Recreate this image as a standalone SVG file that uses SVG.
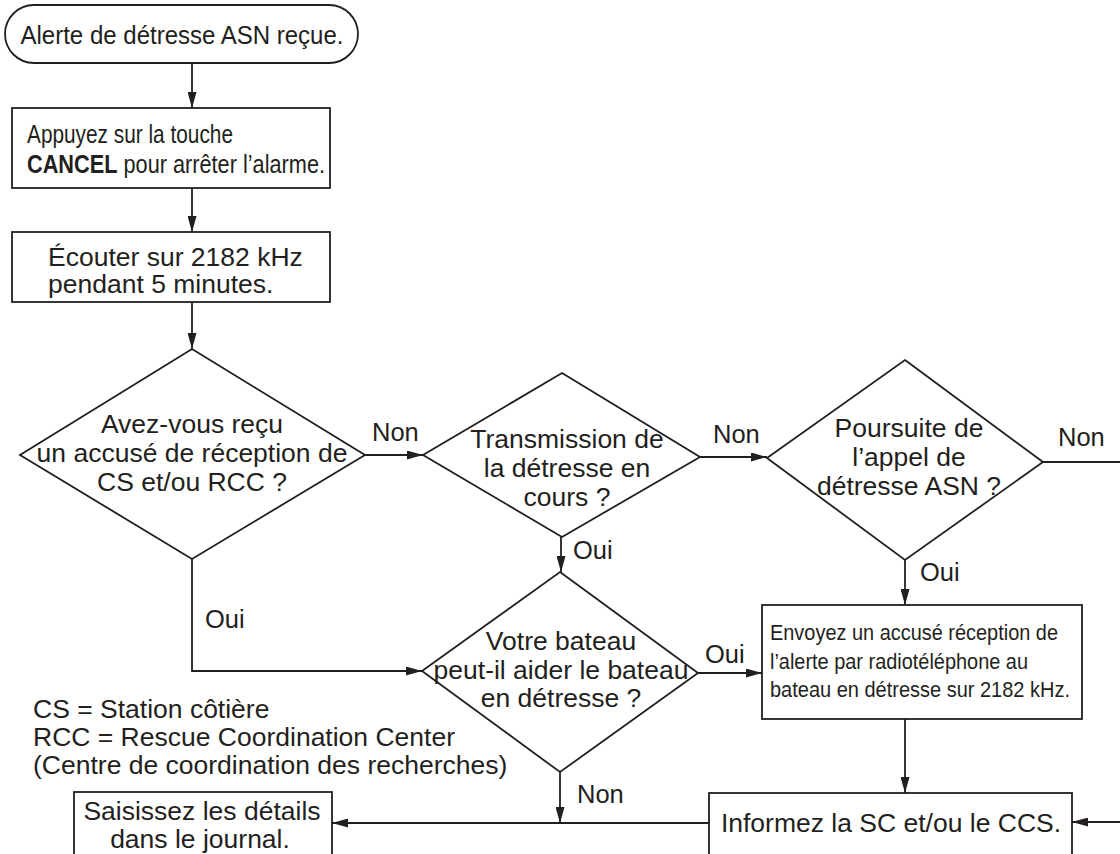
<svg xmlns="http://www.w3.org/2000/svg" width="1120" height="854" viewBox="0 0 1120 854">
<defs>
<style>
text{font-family:"Liberation Sans",Arial,sans-serif;fill:#231f20;}
.t26{font-size:26.5px;}
.lbl{font-size:25.5px;}
.t25{font-size:25px;}
.t22{font-size:22px;}
.mid{text-anchor:middle;}
.shape{fill:#fff;stroke:#231f20;stroke-width:1.8;}
.conn{fill:none;stroke:#231f20;stroke-width:1.8;}
.b{font-weight:bold;}
</style>
<marker id="arr" markerUnits="userSpaceOnUse" markerWidth="16" markerHeight="9" refX="16" refY="4.5" orient="auto">
<path d="M0,0 L16,4.5 L0,9 z" fill="#231f20"/>
</marker>
</defs>
<rect width="1120" height="854" fill="#fff"/>

<g id="connectors">
<path class="conn" d="M192,63 V108" marker-end="url(#arr)"/>
<path class="conn" d="M192,188 V232" marker-end="url(#arr)"/>
<path class="conn" d="M192,302 V349" marker-end="url(#arr)"/>
<path class="conn" d="M365,455 H423" marker-end="url(#arr)"/>
<path class="conn" d="M700,457 H767" marker-end="url(#arr)"/>
<path class="conn" d="M1043,462 H1120"/>
<path class="conn" d="M561,537 V572" marker-end="url(#arr)"/>
<path class="conn" d="M905,560 V605" marker-end="url(#arr)"/>
<path class="conn" d="M192,559 V671 H422" marker-end="url(#arr)"/>
<path class="conn" d="M698,673 H762" marker-end="url(#arr)"/>
<path class="conn" d="M905,719 V793" marker-end="url(#arr)"/>
<path class="conn" d="M1120,822 H1072" marker-end="url(#arr)"/>
<path class="conn" d="M709,823 H332" marker-end="url(#arr)"/>
<path class="conn" d="M560,772 V823" marker-end="url(#arr)"/>
<text class="lbl" x="372" y="441">Non</text>
<text class="lbl" x="713" y="443">Non</text>
<text class="lbl" x="1058" y="446">Non</text>
<text class="lbl" x="573" y="559">Oui</text>
<text class="lbl" x="920" y="581">Oui</text>
<text class="lbl" x="205" y="628">Oui</text>
<text class="lbl" x="705" y="663">Oui</text>
<text class="lbl" x="577" y="803">Non</text>
</g>

<g id="start">
<rect class="shape" x="5" y="5" width="353" height="58" rx="29" ry="29"/>
<text class="t26 mid" x="182" y="44" textLength="323" lengthAdjust="spacingAndGlyphs">Alerte de détresse ASN reçue.</text>
</g>

<g id="cancel">
<rect class="shape" x="12" y="108" width="318" height="80"/>
<text class="t25" x="27" y="143" textLength="206" lengthAdjust="spacingAndGlyphs">Appuyez sur la touche</text>
<text class="t25" x="27" y="173" textLength="298" lengthAdjust="spacingAndGlyphs"><tspan class="b">CANCEL</tspan> pour arrêter l’alarme.</text>
</g>

<g id="listen">
<rect class="shape" x="12" y="232" width="318" height="70"/>
<text class="t26" x="48" y="266">Écouter sur 2182 kHz</text>
<text class="t26" x="48" y="293">pendant 5 minutes.</text>
</g>

<g id="d-ack">
<polygon class="shape" points="192,349 365,455 192,559 20,455"/>
<text class="t26 mid" x="192" y="433">Avez-vous reçu</text>
<text class="t26 mid" x="192" y="462">un accusé de réception de</text>
<text class="t26 mid" x="192" y="491">CS et/ou RCC ?</text>
</g>

<g id="d-transmission">
<polygon class="shape" points="562,373 700,457 562,537 423,455"/>
<text class="t26 mid" x="567" y="448">Transmission de</text>
<text class="t26 mid" x="567" y="477">la détresse en</text>
<text class="t26 mid" x="567" y="506">cours ?</text>
</g>

<g id="d-poursuite">
<polygon class="shape" points="905,360 1043,462 905,560 767,458"/>
<text class="t26 mid" x="909" y="437">Poursuite de</text>
<text class="t26 mid" x="909" y="466">l’appel de</text>
<text class="t26 mid" x="909" y="495">détresse ASN ?</text>
</g>

<g id="d-aider">
<polygon class="shape" points="560,572 698,673 560,772 422,671"/>
<text class="t26 mid" x="561" y="650">Votre bateau</text>
<text class="t26 mid" x="561" y="679">peut-il aider le bateau</text>
<text class="t26 mid" x="561" y="707">en détresse ?</text>
</g>

<g id="envoyez">
<rect class="shape" x="762" y="605" width="320" height="114"/>
<text class="t22" x="770" y="640" textLength="288" lengthAdjust="spacingAndGlyphs">Envoyez un accusé réception de</text>
<text class="t22" x="770" y="669" textLength="258" lengthAdjust="spacingAndGlyphs">l’alerte par radiotéléphone au</text>
<text class="t22" x="770" y="697" textLength="300" lengthAdjust="spacingAndGlyphs">bateau en détresse sur 2182 kHz.</text>
</g>

<g id="informez">
<rect class="shape" x="709" y="793" width="363" height="90"/>
<text class="t26 mid" x="891" y="832">Informez la SC et/ou le CCS.</text>
</g>

<g id="saisissez">
<rect class="shape" x="74" y="792" width="258" height="90"/>
<text class="t26 mid" x="202" y="820">Saisissez les détails</text>
<text class="t26 mid" x="200" y="848">dans le journal.</text>
</g>

<g id="legend">
<text class="t26" x="33" y="718">CS = Station côtière</text>
<text class="t26" x="33" y="746">RCC = Rescue Coordination Center</text>
<text class="t26" x="33" y="774">(Centre de coordination des recherches)</text>
</g>
</svg>
